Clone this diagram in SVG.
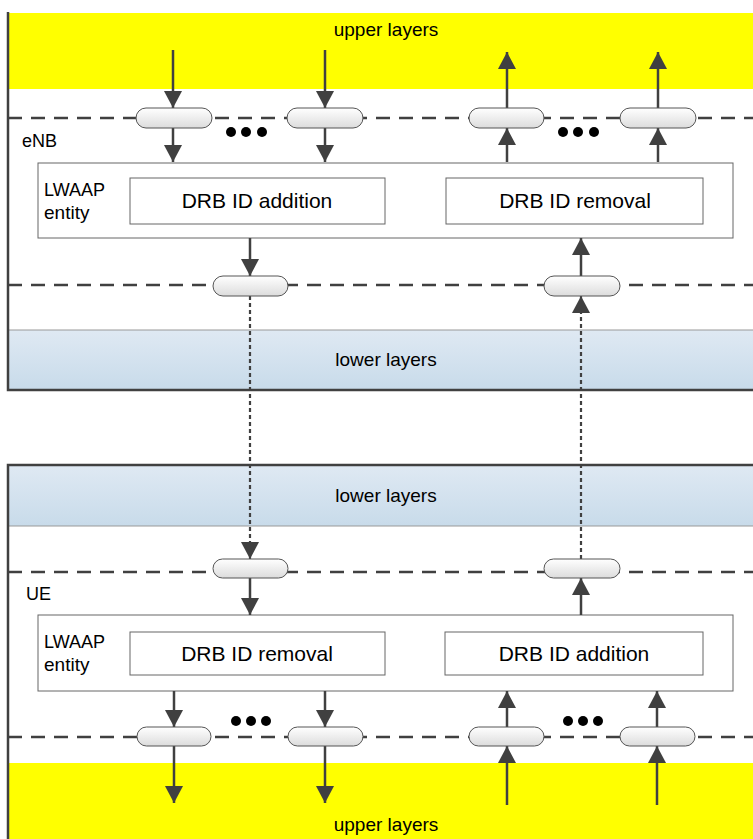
<svg xmlns="http://www.w3.org/2000/svg" width="753" height="839" viewBox="0 0 753 839">
<style>
.frame{stroke:#404040;stroke-width:2.5;fill:none}
.dash{stroke:#404040;stroke-width:2.5;stroke-dasharray:14 9;fill:none}
.pill{fill:url(#pg);stroke:#555;stroke-width:1}
.box{fill:#fff;stroke:#666;stroke-width:1}
.arr{stroke:#404040;stroke-width:2.5;fill:none;marker-end:url(#ah)}
.dot{stroke:#404040;stroke-width:2.2;stroke-dasharray:4 3;fill:none;marker-end:url(#ah)}
.t{font-family:"Liberation Sans",Arial,sans-serif;fill:#000}
.dots{fill:#000}
</style>
<defs>
<linearGradient id="pg" x1="0" y1="0" x2="0" y2="1"><stop offset="0" stop-color="#ffffff"/><stop offset="1" stop-color="#dcdcdc"/></linearGradient>
<linearGradient id="lg" x1="0" y1="0" x2="0" y2="1"><stop offset="0" stop-color="#dfe9f3"/><stop offset="1" stop-color="#c8dbea"/></linearGradient>
<marker id="ah" markerUnits="userSpaceOnUse" markerWidth="18" markerHeight="18" refX="17" refY="9" orient="auto"><path d="M0,0 L17,9 L0,18 z" fill="#404040"/></marker>
</defs>

<g id="enb-upper-layers">
<rect x="9" y="13" width="744" height="76" fill="#ffff00"/>
<text class="t" x="386" y="36" font-size="19" text-anchor="middle">upper layers</text>
</g>
<g id="enb-lower-layers">
<rect x="9" y="330" width="744" height="59" fill="url(#lg)"/>
<line x1="9" y1="330" x2="753" y2="330" stroke="#999" stroke-width="1"/>
<text class="t" x="386" y="366" font-size="19" text-anchor="middle">lower layers</text>
</g>
<g id="enb-frame">
<path class="frame" d="M8,12 V390 H753"/>
<text class="t" x="22" y="147" font-size="18">eNB</text>
</g>
<g id="enb-dashes">
<line class="dash" x1="8" y1="118" x2="753" y2="118"/>
<line class="dash" x1="8" y1="285" x2="753" y2="285"/>
</g>

<g id="ue-lower-layers">
<rect x="9" y="465" width="744" height="61" fill="url(#lg)"/>
<line x1="9" y1="526" x2="753" y2="526" stroke="#999" stroke-width="1"/>
<text class="t" x="386" y="502" font-size="19" text-anchor="middle">lower layers</text>
</g>
<g id="ue-upper-layers">
<rect x="9" y="763" width="744" height="76" fill="#ffff00"/>
<text class="t" x="386" y="831" font-size="19" text-anchor="middle">upper layers</text>
</g>
<g id="ue-frame">
<path class="frame" d="M753,465 H8 V839"/>
<text class="t" x="26" y="600" font-size="18">UE</text>
</g>
<g id="ue-dashes">
<line class="dash" x1="8" y1="572" x2="753" y2="572"/>
<line class="dash" x1="8" y1="737" x2="753" y2="737"/>
</g>

<g id="enb-lwaap">
<rect class="box" x="38" y="163" width="695" height="75"/>
<text class="t" x="44" y="196" font-size="18">LWAAP</text>
<text class="t" x="44" y="219" font-size="19">entity</text>
</g>
<g id="enb-drb-add">
<rect class="box" x="130" y="178" width="255" height="46"/>
<text class="t" x="257" y="208" font-size="21" text-anchor="middle">DRB ID addition</text>
</g>
<g id="enb-drb-rem">
<rect class="box" x="446" y="178" width="257" height="46"/>
<text class="t" x="575" y="208" font-size="21" text-anchor="middle">DRB ID removal</text>
</g>

<g id="ue-lwaap">
<rect class="box" x="38" y="615" width="695" height="76"/>
<text class="t" x="44" y="648" font-size="18">LWAAP</text>
<text class="t" x="44" y="671" font-size="19">entity</text>
</g>
<g id="ue-drb-rem">
<rect class="box" x="130" y="632" width="255" height="43"/>
<text class="t" x="257" y="661" font-size="21" text-anchor="middle">DRB ID removal</text>
</g>
<g id="ue-drb-add">
<rect class="box" x="445" y="632" width="258" height="43"/>
<text class="t" x="574" y="661" font-size="21" text-anchor="middle">DRB ID addition</text>
</g>

<g id="connectors">
<line class="arr" x1="173" y1="50" x2="173" y2="108"/>
<line class="arr" x1="173" y1="128" x2="173" y2="162"/>
<line class="arr" x1="325" y1="50" x2="325" y2="108"/>
<line class="arr" x1="325" y1="128" x2="325" y2="162"/>
<line class="arr" x1="507" y1="108" x2="507" y2="52"/>
<line class="arr" x1="507" y1="162" x2="507" y2="128"/>
<line class="arr" x1="658" y1="108" x2="658" y2="52"/>
<line class="arr" x1="658" y1="162" x2="658" y2="128"/>
<line class="arr" x1="250" y1="238" x2="250" y2="276"/>
<line class="arr" x1="581" y1="276" x2="581" y2="238"/>
<line class="dot" x1="250" y1="296" x2="250" y2="559"/>
<line class="dot" x1="581" y1="559" x2="581" y2="296"/>
<line class="arr" x1="250" y1="578" x2="250" y2="615"/>
<line class="arr" x1="581" y1="615" x2="581" y2="578"/>
<line class="arr" x1="174" y1="691" x2="174" y2="727"/>
<line class="arr" x1="325" y1="691" x2="325" y2="727"/>
<line class="arr" x1="507" y1="727" x2="507" y2="691"/>
<line class="arr" x1="657" y1="727" x2="657" y2="691"/>
<line class="arr" x1="174" y1="746" x2="174" y2="803"/>
<line class="arr" x1="325" y1="746" x2="325" y2="803"/>
<line class="arr" x1="507" y1="805" x2="507" y2="746"/>
<line class="arr" x1="657" y1="805" x2="657" y2="746"/>
</g>

<g id="enb-pills">
<rect class="pill" x="136" y="108" width="76" height="20" rx="10"/>
<rect class="pill" x="287" y="108" width="76" height="20" rx="10"/>
<rect class="pill" x="469" y="108" width="75" height="20" rx="10"/>
<rect class="pill" x="620" y="108" width="76" height="20" rx="10"/>
<rect class="pill" x="213" y="276" width="75" height="20" rx="10"/>
<rect class="pill" x="544" y="276" width="76" height="20" rx="10"/>
</g>
<g id="ue-pills">
<rect class="pill" x="213" y="559" width="75" height="19" rx="9.5"/>
<rect class="pill" x="544" y="559" width="76" height="19" rx="9.5"/>
<rect class="pill" x="137" y="727" width="74" height="19" rx="9.5"/>
<rect class="pill" x="288" y="727" width="75" height="19" rx="9.5"/>
<rect class="pill" x="469" y="727" width="75" height="19" rx="9.5"/>
<rect class="pill" x="620" y="727" width="75" height="19" rx="9.5"/>
</g>
<g id="ellipses">
<circle class="dots" cx="231" cy="132" r="5"/><circle class="dots" cx="246" cy="132" r="5"/><circle class="dots" cx="262" cy="132" r="5"/>
<circle class="dots" cx="563" cy="132" r="5"/><circle class="dots" cx="578" cy="132" r="5"/><circle class="dots" cx="594" cy="132" r="5"/>
<circle class="dots" cx="236" cy="721" r="5"/><circle class="dots" cx="251" cy="721" r="5"/><circle class="dots" cx="266" cy="721" r="5"/>
<circle class="dots" cx="568" cy="721" r="5"/><circle class="dots" cx="583" cy="721" r="5"/><circle class="dots" cx="598" cy="721" r="5"/>
</g>
</svg>
